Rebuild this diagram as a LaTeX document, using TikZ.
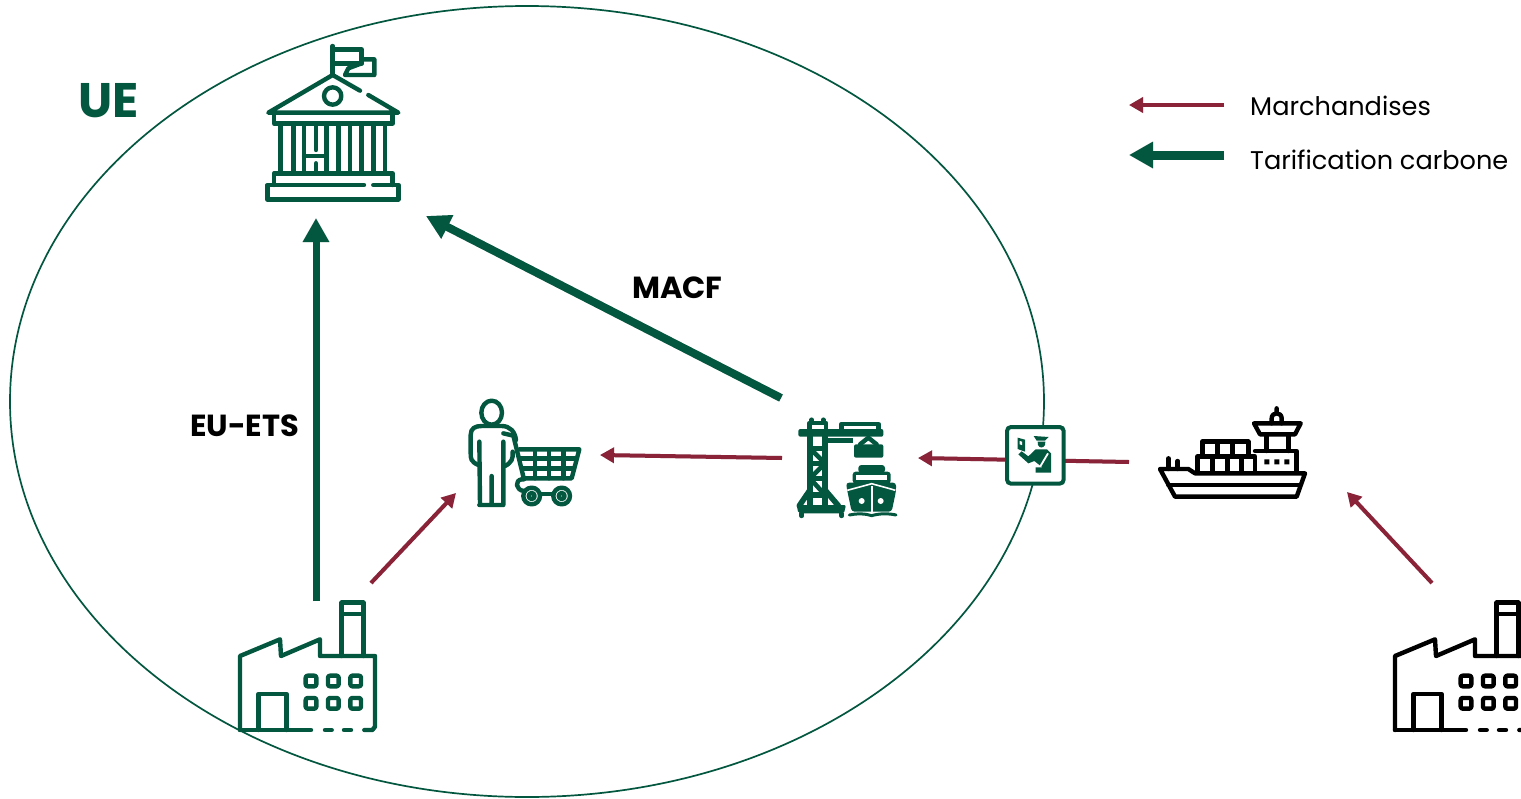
\documentclass[tikz,border=0pt]{standalone}
\usepackage{fontspec}
\setmainfont{Poppins}
\usetikzlibrary{arrows.meta,shapes.geometric}
\definecolor{ugreen}{HTML}{03573F}
\definecolor{ured}{HTML}{8A2238}
\tikzset{
 icon/.style={line width=4.4pt,line cap=round,line join=round,draw=#1},
 zoomed/.style={x=0.33333pt,y=-0.33333pt},
 shadowline/.style={draw=black,opacity=0.14},
 goods/.style={draw=ured,line width=4pt,-{Triangle[length=14pt,width=15pt]}},
 carbon/.style={draw=ugreen,line width=#1,-{Triangle[length=24pt,width=25pt]}},
 lbl/.style={font=\fontsize{30.5}{34}\selectfont\bfseries,text=black,inner sep=0pt},
 leg/.style={font=\fontsize{25.6}{30}\selectfont,text=black,inner sep=0pt,anchor=base west},
}
\newcommand{\factoryicon}[3]{%
 \begin{scope}[zoomed,xshift=#1pt,yshift=-#2pt]
  \draw[icon=#3] (45,420)--(45,198)--(165,148)--(168,198)--(285,148)--(285,198)--(450,198)--(450,410)--(442,420)--(418,420);
  \draw[icon=#3] (45,420)--(258,420) (300,420)--(320,420) (357,420)--(378,420);
  \draw[icon=#3] (100,420)--(100,312)--(185,312)--(185,420);
  \draw[icon=#3] (350,198)--(350,38)--(415,38)--(415,198) (350,72)--(415,72);
  \foreach \wx in {258,325,392}\foreach \wy in {273,340}
   \draw[icon=#3,rounded corners=2pt] (\wx-16,\wy-16) rectangle (\wx+16,\wy+16);
 \end{scope}}
\begin{document}
\begin{tikzpicture}[x=1pt,y=-1pt]
\clip (0,0) rectangle (1521,798);
\useasboundingbox (0,0) rectangle (1521,798);
\fill[white] (0,0) rectangle (1521,798);
% endpoints
\coordinate (etsA) at (316,601); \coordinate (etsB) at (316,218);
\coordinate (macfA) at (781,398); \coordinate (macfB) at (426,216);
\coordinate (portShop) at (782,458); \coordinate (shopIn) at (600,455);
\coordinate (shipPort) at (1129,462); \coordinate (portIn) at (918,458);
\coordinate (facShop) at (371,583); \coordinate (shopIn2) at (456,493);
\coordinate (facShip) at (1432,583); \coordinate (shipIn) at (1347,492);
\coordinate (legA1) at (1224,105); \coordinate (legA2) at (1129,105);
\coordinate (legB1) at (1224,155); \coordinate (legB2) at (1129,155);
% ellipse
\node (ue) [draw=ugreen,line width=1.7pt,ellipse,minimum width=1034pt,minimum height=791pt,inner sep=0pt] at (527,401.5) {};
% shadows
\begin{scope}[xshift=2pt,yshift=-3pt]
 \draw[carbon=7pt,shadowline] (etsA)--(etsB);
 \draw[carbon=8pt,shadowline] (macfA)--(macfB);
 \draw[goods,shadowline] (portShop)--(shopIn);
 \draw[goods,shadowline] (shipPort)--(portIn);
 \draw[goods,shadowline] (facShop)--(shopIn2);
 \draw[goods,shadowline] (facShip)--(shipIn);
 \draw[goods,shadowline] (legA1)--(legA2);
 \draw[carbon=9pt,shadowline] (legB1)--(legB2);
\end{scope}
% connectors
\draw[carbon=7pt] (etsA)--(etsB);
\draw[carbon=8pt] (macfA)--(macfB);
\draw[goods] (portShop)--(shopIn);
\draw[goods] (shipPort)--(portIn);
\draw[goods] (facShop)--(shopIn2);
\draw[goods] (facShip)--(shipIn);
\draw[goods] (legA1)--(legA2);
\draw[carbon=9pt] (legB1)--(legB2);
% bank
\begin{scope}[zoomed,xshift=240pt,yshift=-30pt]
 \draw[icon=ugreen] (278,48)--(278,135);
 \draw[icon=ugreen] (278,58)--(365,58)--(365,100)--(278,100);
 \draw[icon=ugreen] (365,88)--(403,88)--(403,135)--(315,135)--(325,115)--(365,100);
 \draw[icon=ugreen] (360,182)--(278,135)--(85,248)--(475,248)--(385,195);
 \draw[icon=ugreen] (278,198) circle (26);
 \draw[icon=ugreen] (102,250)--(102,280)--(458,280)--(458,250);
 \foreach \cx in {122,160,192,260,295,330,365,400,435} \draw[icon=ugreen] (\cx,280)--(\cx,430);
 \draw[icon=ugreen] (228,285)--(228,360) (228,400)--(228,430);
 \draw[icon=ugreen] (102,465)--(102,430)--(458,430)--(458,465);
 \draw[icon=ugreen] (372,465)--(82,465)--(82,508)--(475,508)--(475,465)--(400,465);
 \draw[icon=ugreen] (192,378)--(260,378);
\end{scope}
% shopper
\begin{scope}[zoomed,xshift=450pt,yshift=-390pt]
 \draw[icon=ugreen] (125,68) ellipse [x radius=31,y radius=36];
 \draw[icon=ugreen] (90,345)--(88,155) (160,155)--(160,345)--(88,345) (125,258)--(125,345);
 \draw[icon=ugreen] (85,225) .. controls (62,215) and (62,205) .. (62,190)--(62,135) .. controls (62,115) and (75,108) .. (95,108)--(155,108) .. controls (180,108) and (195,125) .. (198,150);
 \draw[icon=ugreen] (165,228) .. controls (185,218) and (190,205) .. (188,185);
 \draw[icon=ugreen] (160,130)--(190,137)--(222,268)--(215,268) .. controls (195,270) and (195,300) .. (222,303);
 \draw[icon=ugreen] (208,178)--(388,178)--(365,265)--(225,265);
 \foreach \gx/\gy in {255/265,297/265,340/265} \draw[icon=ugreen] (\gx,178)--(\gx,\gy);
 \draw[icon=ugreen] (212,205)--(380,205) (218,235)--(372,235);
 \draw[icon=ugreen] (245,318) circle (25) (245,318) circle (9);
 \draw[icon=ugreen] (335,318) circle (25) (335,318) circle (9);
 \draw[icon=ugreen] (270,312)--(310,312);
\end{scope}
% crane and ship
\begin{scope}[zoomed,xshift=790pt,yshift=-415pt]
 \fill[ugreen,rounded corners=2pt] (25,42)--(280,42)--(280,65)--(25,65)--cycle;
 \draw[icon=ugreen] (58,42)--(58,24)--(108,24)--(108,42);
 \draw[icon=ugreen] (65,22)--(65,14) (100,22)--(100,14);
 \draw[icon=ugreen] (155,42)--(155,27)--(265,27)--(265,42);
 \draw[icon=ugreen,line width=5.6pt] (60,65)--(60,270) (105,65)--(105,270);
 \fill[ugreen] (105,70)--(190,70)--(190,84)--(105,84)--cycle;
 \draw[icon=ugreen,line width=5.6pt] (60,100)--(105,100) (60,145)--(105,145) (60,190)--(105,190) (60,240)--(105,240);
 \draw[icon=ugreen,line width=4.6pt] (60,100)--(105,145)--(60,190)--(105,240);
 \draw[icon=ugreen,line width=5.6pt] (60,225)--(28,272) (105,225)--(145,272);
 \fill[ugreen,rounded corners=2pt] (20,270)--(168,270)--(162,295)--(25,295)--cycle;
 \draw[icon=ugreen] (35,295)--(35,303) (155,295)--(155,303);
 \draw[icon=ugreen] (210,88)--(235,68)--(260,88);
 \fill[ugreen,rounded corners=2pt] (192,88)--(280,88)--(280,128)--(192,128)--cycle;
 \fill[ugreen,rounded corners=3pt] (205,150)--(285,150)--(285,174)--(205,174)--cycle;
 \fill[ugreen,rounded corners=3pt] (188,170)--(302,170)--(302,206)--(188,206)--cycle;
 \fill[white] (198,179) rectangle (292,195);
 \fill[ugreen,rounded corners=3pt] (168,203)--(318,203)--(318,228)--(305,290)--(185,290)--(172,228)--cycle;
 \fill[white] (242,212) rectangle (248,290);
 \draw[white,line width=1.6pt] (172,226) .. controls (200,218) and (225,212) .. (245,206) .. controls (265,212) and (290,218) .. (316,226);
 \fill[white] (215,258) circle (9) (272,258) circle (9);
 \draw[icon=ugreen,line width=3pt] (178,300) .. controls (200,295) and (225,295) .. (245,302) .. controls (268,295) and (295,295) .. (318,300);
\end{scope}
% customs
\begin{scope}[zoomed,xshift=1005pt,yshift=-425pt]
 \draw[ugreen,fill=white,line width=4pt,rounded corners=4pt] (6,6) rectangle (176,176);
 \fill[ugreen] (38,38)--(60,44)--(60,80)--(38,72)--cycle;
 \fill[white] (44,48)--(51,50)--(51,60)--(44,58)--cycle;
 \fill[ugreen] (86,33)--(131,36)--(120,47)--(95,47)--cycle;
 \fill[ugreen] (98,50)--(121,50)--(120,60) .. controls (115,70) and (103,70) .. (99,60)--cycle;
 \fill[ugreen] (40,88)--(50,79)--(70,94)--(92,73)--(126,73)--(138,85)--(138,143)--(92,143)--(92,127)--(112,127)--(88,108)--(70,115)--cycle;
 \draw[white,line width=1.8pt] (129,85)--(106,124);
\end{scope}
% black ship
\begin{scope}[zoomed,xshift=1140pt,yshift=-395pt]
 \draw[icon=black] (60,222)--(145,222)--(165,235)--(495,235)--(470,305)--(105,305)--cycle;
 \draw[icon=black] (85,270)--(480,270);
 \draw[icon=black] (172,232)--(172,185)--(345,185)--(345,232);
 \foreach \sx in {218,262,305} \draw[icon=black] (\sx,185)--(\sx,232);
 \draw[icon=black] (187,185)--(187,140)--(325,140)--(325,185);
 \foreach \sx in {232,277} \draw[icon=black] (\sx,140)--(\sx,185);
 \draw[icon=black] (345,168)--(470,168)--(470,232);
 \draw[icon=black] (380,120)--(380,168) (445,120)--(445,168);
 \draw[icon=black] (342,85)--(482,85)--(465,118)--(360,118)--cycle;
 \draw[icon=black] (395,85)--(395,70) .. controls (395,50) and (425,50) .. (425,70)--(425,85) (410,40)--(410,55);
 \fill[black] (373,193) rectangle (388,208) (403,193) rectangle (418,208) (433,193) rectangle (448,208);
 \draw[icon=black] (85,190)--(85,222) (113,198)--(113,222);
\end{scope}
% factories
\factoryicon{225}{590}{ugreen}
\factoryicon{1380}{590}{black}
% labels
\node[lbl,text=ugreen,font=\fontsize{48.5}{52}\selectfont\bfseries,anchor=base west] (uelbl) at (78,117) {UE};
\node[lbl,anchor=base west] (ets) at (190,436) {EU-ETS};
\node[lbl,anchor=base west] (macf) at (632,298) {MACF};
\node[leg] (l1) at (1250,115) {Marchandises};
\node[leg] (l2) at (1250,169) {Tarification carbone};
\end{tikzpicture}
\end{document}
